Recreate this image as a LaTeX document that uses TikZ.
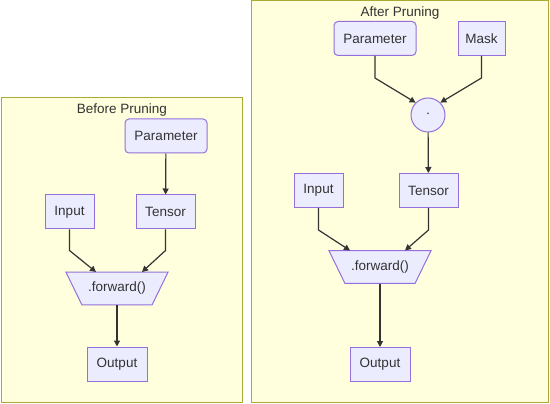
\documentclass[tikz,border=0pt]{standalone}
\usepackage{fontspec}
\setmainfont{Liberation Sans}
\usetikzlibrary{arrows.meta,positioning,shapes.geometric,calc}
\definecolor{grpfill}{HTML}{FFFFDE}
\definecolor{grpline}{HTML}{AAAA33}
\definecolor{ndfill}{HTML}{ECECFF}
\definecolor{ndline}{HTML}{9370DB}
\definecolor{ink}{HTML}{333333}
\tikzset{
  grp/.style={draw=grpline,fill=grpfill,line width=1pt},
  grplbl/.style={font=\fontsize{13.5}{16}\selectfont,text=ink,inner sep=0pt},
  box/.style={draw=ndline,fill=ndfill,line width=1pt,minimum height=34pt,inner sep=0pt,
              font=\fontsize{13.5}{16}\selectfont,text=ink},
  rbox/.style={box,rounded corners=4pt},
  op/.style={box,circle,minimum size=34pt},
  fwd/.style={box,trapezium,shape border rotate=180,trapezium stretches body=true,trapezium angle=64,
              inner xsep=0pt,inner ysep=10pt,minimum width=102pt,minimum height=0pt},
  flow/.style={-{Triangle[length=6pt,width=6pt]},line width=1.2pt,draw=ink},
}
\begin{document}
\begin{tikzpicture}[x=1pt,y=-1pt]
  \useasboundingbox (0,0) rectangle (550,404);
  % before pruning
  \draw[grp] (1,98) rectangle (242,402.5);
  \node[grplbl] (tb) at (122,110) {Before Pruning};
  \node[rbox,minimum width=82pt] (par1) at (166,136) {Parameter};
  \node[box,minimum width=49pt] (in1) at (69.5,212) {Input};
  \node[box,minimum width=59pt] (ten1) at (165.5,212) {Tensor};
  \node[fwd] (fw1) at (117,288.5) {.forward()};
  \node[box,minimum width=60pt] (out1) at (117,364) {Output};
  \draw[flow] (par1) -- (ten1);
  \draw[flow] (in1.south) -- ++(0,21) -- ($(fw1.center)+(-21,-16.5)$);
  \draw[flow] (ten1.south) -- ++(0,21) -- ($(fw1.center)+(25,-16.5)$);
  \draw[flow] (fw1) -- (out1);

  % after pruning
  \draw[grp] (251,1) rectangle (548,402.5);
  \node[grplbl] (ta) at (400,13) {After Pruning};
  \node[rbox,minimum width=82pt] (par2) at (375,38.5) {Parameter};
  \node[box,minimum width=47pt] (msk) at (481.5,38.5) {Mask};
  \node[op] (dot) at (428,115) {·};
  \node[box,minimum width=49pt] (in2) at (318.5,190.5) {Input};
  \node[box,minimum width=59pt] (ten2) at (428.5,190.5) {Tensor};
  \node[fwd] (fw2) at (380,267) {.forward()};
  \node[box,minimum width=60pt] (out2) at (380,364.5) {Output};
  \draw[flow] (par2.south) -- ++(0,22) -- (dot.north west);
  \draw[flow] (msk.south) -- ++(0,22) -- (dot.north east);
  \draw[flow] (dot) -- (ten2);
  \draw[flow] (in2.south) -- ++(0,22) -- ($(fw2.center)+(-30,-16.5)$);
  \draw[flow] (ten2.south) -- ++(0,22) -- ($(fw2.center)+(25,-16.5)$);
  \draw[flow] (fw2) -- (out2);
\end{tikzpicture}
\end{document}
